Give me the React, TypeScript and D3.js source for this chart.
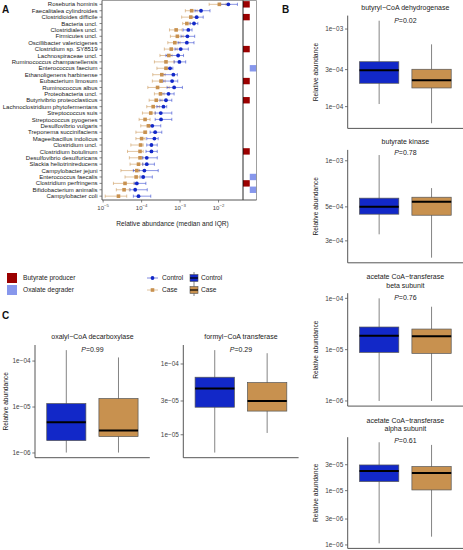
import React from "react";
import * as d3 from "d3";

const FONT = "'Liberation Sans', Arial, Helvetica, sans-serif";
const CONTROL = "#1228c8";
const CASE = "#c8914f";
const BUTYRATE = "#9b0000";
const OXALATE = "#8797ec";

// ---------- Panel A data ----------
const species = [
  "Roseburia hominis",
  "Faecalitalea cylindroides",
  "Clostridioides difficile",
  "Bacteria uncl.",
  "Clostridiales uncl.",
  "Firmicutes uncl.",
  "Oscillibacter valericigenes",
  "Clostridium sp. SY8519",
  "Lachnospiraceae uncl.",
  "Ruminococcus champanellensis",
  "Enterococcus faecium",
  "Ethanoligenens harbinense",
  "Eubacterium limosum",
  "Ruminococcus albus",
  "Proteobacteria uncl.",
  "Butyrivibrio proteoclasticus",
  "Lachnoclostridium phytofermentans",
  "Streptococcus suis",
  "Streptococcus pyogenes",
  "Desulfovibrio vulgaris",
  "Treponema succinifaciens",
  "Mageeibacillus indolicus",
  "Clostridium uncl.",
  "Clostridium botulinum",
  "Desulfovibrio desulfuricans",
  "Slackia heliotrinireducens",
  "Campylobacter jejuni",
  "Enterococcus faecalis",
  "Clostridium perfringens",
  "Bifidobacterium animalis",
  "Campylobacter coli",
];

const controlMedian = [1.8e-2, 3.5e-3, 2.7e-3, 2.3e-3, 1.64e-3, 1.55e-3, 1.5e-3, 1.04e-3, 8.9e-4, 9.6e-4, 5.5e-4, 6.7e-4, 6.2e-4, 7.0e-4, 5.0e-4, 4.3e-4, 3.7e-4, 3.15e-4, 3.2e-4, 1.9e-4, 2.25e-4, 2.15e-4, 1.8e-4, 1.8e-4, 1.36e-4, 1.36e-4, 1.18e-4, 1.1e-4, 7.5e-5, 6.8e-5, 8.3e-5];
const controlQ1 = [1.1e-2, 2.45e-3, 1.93e-3, 1.82e-3, 1.2e-3, 1.06e-3, 8.9e-4, 7.4e-4, 4.3e-4, 7.0e-4, 4.3e-4, 3.4e-4, 3.6e-4, 4.6e-4, 3.0e-4, 3.0e-4, 2.5e-4, 2.25e-4, 2.25e-4, 1.57e-4, 1.66e-4, 1.36e-4, 1.36e-4, 1.3e-4, 1.07e-4, 1.07e-4, 6.1e-5, 9.5e-5, 6.4e-5, 5.0e-5, 6.1e-5];
const controlQ3 = [3.1e-2, 6.0e-3, 4.0e-3, 2.9e-3, 2.05e-3, 2.4e-3, 2.3e-3, 1.64e-3, 1.23e-3, 1.4e-3, 6.5e-4, 8.5e-4, 8.7e-4, 1.15e-3, 7.0e-4, 6.1e-4, 4.5e-4, 6.1e-4, 6.1e-4, 3.15e-4, 3.35e-4, 2.7e-4, 2.55e-4, 2.55e-4, 2.55e-4, 2.15e-4, 2.7e-4, 1.9e-4, 1.29e-4, 1.4e-4, 1.73e-4];
const caseMedian = [1.05e-2, 2.0e-3, 1.9e-3, 1.5e-3, 7.9e-4, 8.5e-4, 7.3e-4, 5.9e-4, 5.1e-4, 4.3e-4, 4.3e-4, 3.35e-4, 3.2e-4, 2.6e-4, 3.1e-4, 2.4e-4, 2.0e-4, 1.73e-4, 1.23e-4, 1.5e-4, 1.23e-4, 1.0e-4, 9.4e-5, 9.1e-5, 9.1e-5, 8.3e-5, 7.5e-5, 7.2e-5, 3.7e-5, 3.5e-5, 2.5e-5];
const caseQ1 = [5.7e-3, 1.37e-3, 1.1e-3, 1.17e-3, 5.3e-4, 5.6e-4, 4.8e-4, 3.9e-4, 3.0e-4, 2.15e-4, 2.5e-4, 1.95e-4, 1.9e-4, 1.45e-4, 2.15e-4, 1.57e-4, 1.36e-4, 1.05e-4, 8.6e-5, 9.5e-5, 7.1e-5, 7.1e-5, 5.25e-5, 4.3e-5, 4.8e-5, 5.0e-5, 2.9e-5, 3.7e-5, 1.85e-5, 2.2e-5, 1.13e-5];
const caseQ3 = [1.57e-2, 2.77e-3, 2.6e-3, 1.82e-3, 1.13e-3, 1.2e-3, 1.0e-3, 8.4e-4, 6.2e-4, 7.0e-4, 4.9e-4, 4.1e-4, 4.1e-4, 5.2e-4, 3.85e-4, 3.4e-4, 2.9e-4, 2.25e-4, 1.66e-4, 1.73e-4, 1.36e-4, 1.23e-4, 1.1e-4, 1.1e-4, 1.07e-4, 1.07e-4, 8.8e-5, 8.8e-5, 6.4e-5, 4.8e-5, 4.1e-5];

const annotationTypes = ["Butyrate producer", "Oxalate degrader"];
const butyrateProducers = [
  "Roseburia hominis",
  "Clostridioides difficile",
  "Clostridium sp. SY8519",
  "Eubacterium limosum",
  "Butyrivibrio proteoclasticus",
  "Clostridium botulinum",
  "Clostridium perfringens",
];
const oxalateDegraders = ["Enterococcus faecium", "Enterococcus faecalis", "Bifidobacterium animalis"];

const xTicksA = [1e-5, 1e-4, 1e-3, 1e-2];

// ---------- Panels B & C data: [min, Q1, median, Q3, max] ----------
const groups = ["Control", "Case"];
const geneTitles = [
  ["butyryl\u2212CoA dehydrogenase"],
  ["butyrate kinase"],
  ["acetate CoA\u2212transferase", "beta subunit"],
  ["acetate CoA\u2212transferase", "alpha subunit"],
  ["oxalyl\u2212CoA decarboxylase"],
  ["formyl\u2212CoA transferase"],
];
const genePValues = ["0.02", "0.78", "0.76", "0.61", "0.99", "0.29"];
const controlStats = [
  [1.08e-4, 2.0e-4, 2.94e-4, 3.79e-4, 1.28e-3],
  [3.31e-4, 4.48e-4, 5.0e-4, 5.7e-4, 1.09e-3],
  [1.0e-6, 8.85e-6, 1.87e-5, 2.76e-5, 1.0e-4],
  [1.07e-6, 1.47e-5, 2.31e-5, 2.97e-5, 7.78e-5],
  [1.02e-6, 1.86e-6, 4.68e-6, 1.19e-5, 1.73e-4],
  [5.6e-6, 2.45e-5, 4.49e-5, 6.5e-5, 1.57e-4],
];
const caseStats = [
  [6.1e-5, 1.74e-4, 2.19e-4, 3.03e-4, 6.35e-4],
  [2.33e-4, 4.41e-4, 5.4e-4, 5.78e-4, 6.63e-4],
  [1.0e-6, 8.47e-6, 1.82e-5, 2.52e-5, 6.86e-5],
  [1.42e-6, 1.03e-5, 2.12e-5, 2.77e-5, 6.95e-5],
  [1.02e-6, 2.28e-6, 3.08e-6, 1.53e-5, 1.2e-4],
  [1.06e-5, 2.16e-5, 3.01e-5, 5.46e-5, 1.42e-4],
];
const geneTicks = [
  [1e-3, 3e-4, 1e-4],
  [1e-3, 5e-4, 3e-4],
  [1e-4, 1e-5, 1e-6],
  [3e-5, 1e-5, 3e-6, 1e-6],
  [1e-4, 1e-5, 1e-6],
  [1e-4, 3e-5, 1e-5],
];

function fmtSci(v: number): string {
  const e = Math.floor(Math.log10(v) + 1e-9);
  const m = Math.round(v / Math.pow(10, e));
  const sign = e < 0 ? "\u2212" : "+";
  return `${m}e${sign}${String(Math.abs(e)).padStart(2, "0")}`;
}

type PanelLayout = {
  left: number;
  width: number;
  top: number;
  bottom: number;
  titleYs: number[];
  pY: number;
  yTitleX: number | null;
};

const panelLayouts: PanelLayout[] = [
  { left: 347.7, width: 115.3, top: 15.6, bottom: 128.4, titleYs: [9.5], pY: 22.6, yTitleX: 315 },
  { left: 347.7, width: 115.3, top: 149.9, bottom: 262.8, titleYs: [143.5], pY: 155.3, yTitleX: 315 },
  { left: 347.7, width: 115.3, top: 293.2, bottom: 406.1, titleYs: [279.3, 287.8], pY: 300.3, yTitleX: 315 },
  { left: 347.7, width: 115.3, top: 437.2, bottom: 548.4, titleYs: [422.6, 431.3], pY: 443.3, yTitleX: 315 },
  { left: 35, width: 114.8, top: 345, bottom: 457.7, titleYs: [339.3], pY: 351.6, yTitleX: 5 },
  { left: 183.3, width: 115.3, top: 345, bottom: 457.7, titleYs: [339.3], pY: 351.6, yTitleX: null },
];

function BoxPanel({ i }: { i: number }) {
  const L = panelLayouts[i];
  const stats = [controlStats[i], caseStats[i]];
  const fills = [CONTROL, CASE];
  const all = [...controlStats[i], ...caseStats[i]];
  const lo = d3.min(all) as number;
  const hi = d3.max(all) as number;
  const l0 = Math.log10(lo);
  const l1 = Math.log10(hi);
  const pad = (l1 - l0) * 0.05;
  const y = d3
    .scaleLog()
    .domain([Math.pow(10, l0 - pad), Math.pow(10, l1 + pad)])
    .range([L.bottom, L.top]);
  const x = d3.scalePoint<string>().domain(groups).range([L.left, L.left + L.width]).padding(0.6);
  const bw = x.step() * 0.75;
  const cx = L.left + L.width / 2;
  return (
    <g>
      {geneTitles[i].map((t, k) => (
        <text key={k} x={cx} y={L.titleYs[k]} textAnchor="middle" fontSize={7} fill="#222">
          {t}
        </text>
      ))}
      <text x={cx} y={L.pY} textAnchor="middle" fontSize={7} fill="#222">
        <tspan fontStyle="italic">P</tspan>={genePValues[i]}
      </text>
      {groups.map((g, k) => {
        const s = stats[k];
        const xc = x(g) as number;
        return (
          <g key={g}>
            <line x1={xc} x2={xc} y1={y(s[0])} y2={y(s[4])} stroke="#777" strokeWidth={0.9} />
            <rect
              x={xc - bw / 2}
              y={y(s[3])}
              width={bw}
              height={y(s[1]) - y(s[3])}
              fill={fills[k]}
              stroke="#555"
              strokeWidth={0.7}
            />
            <line x1={xc - bw / 2} x2={xc + bw / 2} y1={y(s[2])} y2={y(s[2])} stroke="#000" strokeWidth={2} />
          </g>
        );
      })}
      <line x1={L.left} x2={L.left} y1={L.top} y2={L.bottom} stroke="#444" strokeWidth={0.9} />
      <line x1={L.left} x2={L.left + L.width} y1={L.bottom} y2={L.bottom} stroke="#444" strokeWidth={0.9} />
      {geneTicks[i].map((t) => (
        <g key={t}>
          <line x1={L.left - 2.7} x2={L.left} y1={y(t)} y2={y(t)} stroke="#555" strokeWidth={0.8} />
          <text x={L.left - 4.5} y={y(t)} dy="0.35em" textAnchor="end" fontSize={6.4} fill="#444">
            {fmtSci(t)}
          </text>
        </g>
      ))}
      {L.yTitleX !== null && (
        <text
          transform={`translate(${L.yTitleX + 2.5},${(L.top + L.bottom) / 2}) rotate(-90)`}
          textAnchor="middle"
          fontSize={6.6}
          fill="#222"
        >
          Relative abundance
        </text>
      )}
    </g>
  );
}

function PanelA() {
  const left = 102;
  const right = 243;
  const stripRight = 256.5;
  const top = 0.5;
  const bottom = 200;
  const x = d3.scaleLog().domain([Math.pow(10, -5.03), Math.pow(10, -1.364)]).range([left, right]);
  const y = d3.scalePoint<string>().domain(species).range([top, bottom]).padding(0.6);
  const step = y.step();
  const ann = d3.scaleBand<string>().domain(annotationTypes).range([right, stripRight]);
  const cap = 1.6;
  return (
    <g>
      {/* annotation strip */}
      {butyrateProducers.map((s) => (
        <rect key={s} x={ann(annotationTypes[0])} y={(y(s) as number) - step / 2} width={ann.bandwidth()} height={step} fill={BUTYRATE} />
      ))}
      {oxalateDegraders.map((s) => (
        <rect key={s} x={ann(annotationTypes[1])} y={(y(s) as number) - step / 2} width={ann.bandwidth()} height={step} fill={OXALATE} />
      ))}
      {/* frame */}
      <line x1={left} x2={stripRight} y1={top} y2={top} stroke="#888" strokeWidth={0.8} />
      <line x1={stripRight} x2={stripRight} y1={top} y2={bottom} stroke="#888" strokeWidth={0.8} />
      <line x1={right} x2={right} y1={top} y2={bottom} stroke="#111" strokeWidth={0.9} />
      <line x1={left} x2={left} y1={top} y2={bottom} stroke="#444" strokeWidth={0.9} />
      <line x1={left} x2={stripRight} y1={bottom} y2={bottom} stroke="#444" strokeWidth={0.9} />
      {species.map((s, i) => {
        const yy = y(s) as number;
        return (
          <g key={s}>
            <line x1={left - 2.5} x2={left} y1={yy} y2={yy} stroke="#555" strokeWidth={0.7} />
            <text x={left - 4.5} y={yy} dy="0.35em" textAnchor="end" fontSize={6.0} fill="#222">
              {s}
            </text>
            {/* case errorbar */}
            <g stroke={CASE} strokeOpacity={0.6} strokeWidth={0.9}>
              <line x1={x(caseQ1[i])} x2={x(caseQ3[i])} y1={yy} y2={yy} />
              <line x1={x(caseQ1[i])} x2={x(caseQ1[i])} y1={yy - cap} y2={yy + cap} />
              <line x1={x(caseQ3[i])} x2={x(caseQ3[i])} y1={yy - cap} y2={yy + cap} />
            </g>
            {/* control errorbar */}
            <g stroke={CONTROL} strokeOpacity={0.55} strokeWidth={0.9}>
              <line x1={x(controlQ1[i])} x2={x(controlQ3[i])} y1={yy} y2={yy} />
              <line x1={x(controlQ1[i])} x2={x(controlQ1[i])} y1={yy - cap} y2={yy + cap} />
              <line x1={x(controlQ3[i])} x2={x(controlQ3[i])} y1={yy - cap} y2={yy + cap} />
            </g>
            <rect x={x(caseMedian[i]) - 1.8} y={yy - 1.8} width={3.6} height={3.6} fill={CASE} />
            <circle cx={x(controlMedian[i])} cy={yy} r={1.9} fill={CONTROL} />
          </g>
        );
      })}
      {xTicksA.map((t) => (
        <g key={t}>
          <line x1={x(t)} x2={x(t)} y1={bottom} y2={bottom + 2.5} stroke="#555" strokeWidth={0.7} />
          <text x={x(t)} y={bottom + 10} textAnchor="middle" fontSize={6} fill="#444">
            10
            <tspan fontSize={4.3} dy={-2.6}>
              {"\u2212" + String(Math.round(-Math.log10(t)))}
            </tspan>
          </text>
        </g>
      ))}
      <text x={(left + right) / 2} y={225.5} textAnchor="middle" fontSize={6.6} fill="#222">
        Relative abundance (median and IQR)
      </text>
    </g>
  );
}

function Legends() {
  const rowY = [278, 290];
  return (
    <g fontSize={6.6} fill="#222">
      {annotationTypes.map((a, k) => (
        <g key={a}>
          <rect x={7} y={rowY[k] - 5} width={10} height={10} fill={k === 0 ? BUTYRATE : OXALATE} />
          <text x={23} y={rowY[k]} dy="0.35em">
            {a}
          </text>
        </g>
      ))}
      {groups.map((g, k) => {
        const c = k === 0 ? CONTROL : CASE;
        const yy = rowY[k];
        return (
          <g key={"p" + g}>
            <line x1={147} x2={158} y1={yy} y2={yy} stroke={c} strokeOpacity={0.6} strokeWidth={0.9} />
            {k === 0 ? (
              <circle cx={152.5} cy={yy} r={1.9} fill={c} />
            ) : (
              <rect x={150.7} y={yy - 1.8} width={3.6} height={3.6} fill={c} />
            )}
            <text x={162} y={yy} dy="0.35em">
              {g}
            </text>
          </g>
        );
      })}
      {groups.map((g, k) => {
        const c = k === 0 ? CONTROL : CASE;
        const yy = rowY[k];
        return (
          <g key={"b" + g}>
            <line x1={194} x2={194} y1={yy - 6} y2={yy + 6} stroke="#666" strokeWidth={0.8} />
            <rect x={190} y={yy - 3.5} width={8} height={7} fill={c} stroke="#555" strokeWidth={0.6} />
            <line x1={190} x2={198} y1={yy} y2={yy} stroke="#000" strokeWidth={1.2} />
            <text x={201} y={yy} dy="0.35em">
              {g}
            </text>
          </g>
        );
      })}
    </g>
  );
}

export default function App() {
  return (
    <svg
      width={463}
      height={550}
      style={{ position: "absolute", left: 0, top: 0, background: "#fff" }}
      fontFamily={FONT}
    >
      <rect width={463} height={550} fill="#fff" />
      <text x={2} y={13} fontSize={10} fontWeight="bold" fill="#111">A</text>
      <text x={282} y={13} fontSize={10} fontWeight="bold" fill="#111">B</text>
      <text x={2} y={319} fontSize={10} fontWeight="bold" fill="#111">C</text>
      <PanelA />
      <Legends />
      {panelLayouts.map((_, i) => (
        <BoxPanel key={i} i={i} />
      ))}
    </svg>
  );
}
